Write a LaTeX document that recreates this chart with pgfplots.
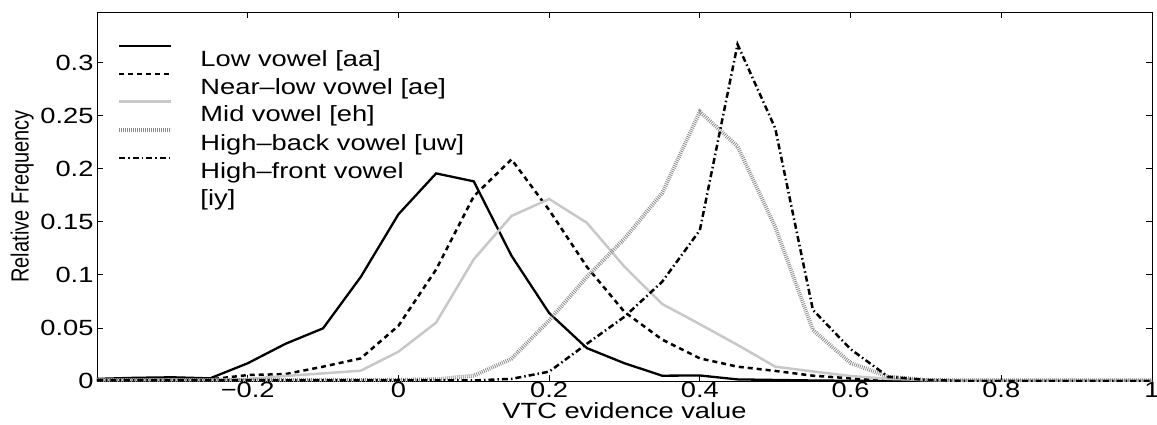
\documentclass[border=0pt]{standalone}
\usepackage{fontspec}
\setmainfont{Liberation Sans}[FakeStretch=1.24]
\newfontfamily\ylabfont{Liberation Sans}
\usepackage{pgfplots}
\pgfplotsset{compat=1.18}
\definecolor{midgray}{RGB}{200,200,200}
\definecolor{backgray}{RGB}{140,140,140}
\newcommand{\chartfont}{\fontsize{22bp}{27bp}\selectfont}
\begin{document}
\begin{tikzpicture}
\begin{axis}[
  scale only axis,
  width=1055bp, height=369bp,
  xmin=-0.4, xmax=1, ymin=0, ymax=0.3475,
  xtick={-0.2,0,0.2,0.4,0.6,0.8,1},
  xticklabels={−0.2,0,0.2,0.4,0.6,0.8,1},
  ytick={0,0.05,0.1,0.15,0.2,0.25,0.3},
  yticklabels={0,0.05,0.1,0.15,0.2,0.25,0.3},
  tick align=inside,
  major tick length=6bp,
  axis line style={line width=0.8bp},
  tick style={black, line width=0.8bp},
  ticklabel style={font=\chartfont},
  xticklabel style={inner sep=1bp},
  xlabel={VTC evidence value},
  xlabel style={font=\chartfont, at={(axis description cs:0.5,-0.0813)}, anchor=center},
  ylabel={\scalebox{1}[1.24]{\ylabfont\fontsize{20bp}{24bp}\selectfont Relative Frequency}},
  ylabel style={at={(axis description cs:-0.071,0.5)}, anchor=center},
  legend cell align=left,
  legend style={at={(axis description cs:0.0164,0.9166)}, anchor=north west,
    draw=none, fill=none, font=\chartfont, row sep=2.8bp,
    nodes={yshift=-13bp},
    /tikz/every odd column/.append style={column sep=25bp}},
  legend image code/.code={
    \draw[#1] (0bp,0bp) -- (52bp,0bp);
  },
]
% Low vowel [aa]
\addplot[black, line width=2.3bp] coordinates {
(-0.4,0.002) (-0.35,0.003) (-0.3,0.0035) (-0.25,0.0025) (-0.2,0.0167) (-0.15,0.035)
(-0.1,0.0496) (-0.05,0.098) (0,0.157) (0.05,0.1955) (0.1,0.188) (0.15,0.118)
(0.2,0.064) (0.25,0.031) (0.3,0.0167) (0.35,0.005) (0.4,0.0052) (0.45,0.0015)
(0.5,0.001) (0.55,0.0005) (0.6,0.0002) (0.65,0) (0.7,0) (0.75,0) (0.8,0) (0.85,0)
(0.9,0) (0.95,0) (1,0)};
\addlegendentry{Low vowel [aa]}
% Near-low vowel [ae]
\addplot[black, line width=2.5bp, dash pattern=on 5bp off 4bp] coordinates {
(-0.4,0.001) (-0.35,0.001) (-0.3,0.001) (-0.25,0.0015) (-0.2,0.0056) (-0.15,0.0065)
(-0.1,0.0135) (-0.05,0.0213) (0,0.052) (0.05,0.105) (0.1,0.174) (0.15,0.2087)
(0.2,0.161) (0.25,0.1076) (0.3,0.065) (0.35,0.039) (0.4,0.0213) (0.45,0.0135)
(0.5,0.0095) (0.55,0.005) (0.6,0.0025) (0.65,0.001) (0.7,0.0005) (0.75,0) (0.8,0)
(0.85,0) (0.9,0) (0.95,0) (1,0)};
\addlegendentry{Near\textendash low vowel [ae]}
% Mid vowel [eh]
\addplot[midgray, line width=2.5bp] coordinates {
(-0.4,0.001) (-0.35,0.001) (-0.3,0.001) (-0.25,0.001) (-0.2,0.002) (-0.15,0.0047)
(-0.1,0.0072) (-0.05,0.0097) (0,0.0276) (0.05,0.055) (0.1,0.1146) (0.15,0.1554)
(0.2,0.1714) (0.25,0.149) (0.3,0.1076) (0.35,0.0725) (0.4,0.0535) (0.45,0.034)
(0.5,0.0135) (0.55,0.009) (0.6,0.0047) (0.65,0.002) (0.7,0.001) (0.75,0) (0.8,0)
(0.85,0) (0.9,0) (0.95,0) (1,0)};
\addlegendentry{Mid vowel [eh]}
% High-back vowel [uw]
\addplot[backgray, line width=4bp, dash pattern=on 0.8bp off 1.2bp] coordinates {
(-0.4,0.0008) (-0.35,0.0008) (-0.3,0.0008) (-0.25,0.0008) (-0.2,0.0008) (-0.15,0.0008)
(-0.1,0.0008) (-0.05,0.0008) (0,0.001) (0.05,0.0015) (0.1,0.005) (0.15,0.021)
(0.2,0.057) (0.25,0.098) (0.3,0.134) (0.35,0.177) (0.4,0.2536) (0.45,0.221)
(0.5,0.145) (0.55,0.048) (0.6,0.017) (0.65,0.004) (0.7,0.001) (0.75,0.0005)
(0.8,0.0005) (0.85,0.0005) (0.9,0.0005) (0.95,0.0005) (1,0.0005)};
\addlegendentry{High\textendash back vowel [uw]}
% High-front vowel [iy]
\addplot[black, line width=2.5bp, dash pattern=on 6bp off 3bp on 1.5bp off 3bp] coordinates {
(-0.4,0.0005) (-0.35,0.0005) (-0.3,0.0005) (-0.25,0.0005) (-0.2,0.0005) (-0.15,0.0005)
(-0.1,0.0005) (-0.05,0.0005) (0,0.0005) (0.05,0.0005) (0.1,0.0005) (0.15,0.002)
(0.2,0.0088) (0.25,0.035) (0.3,0.0605) (0.35,0.0935) (0.4,0.142) (0.45,0.317)
(0.5,0.238) (0.55,0.067) (0.6,0.03) (0.65,0.004) (0.7,0.001) (0.75,0) (0.8,0)
(0.85,0) (0.9,0) (0.95,0) (1,0)};
\addlegendentry{\raisebox{0pt}[\height][0pt]{\vtop{\hbox{High\textendash front vowel}\hbox{[iy]}}}}
\end{axis}
\pgfresetboundingbox
\path (current axis.south west) ++(-97bp,-44bp) rectangle ++(1157bp,425bp);
\end{tikzpicture}
\end{document}
